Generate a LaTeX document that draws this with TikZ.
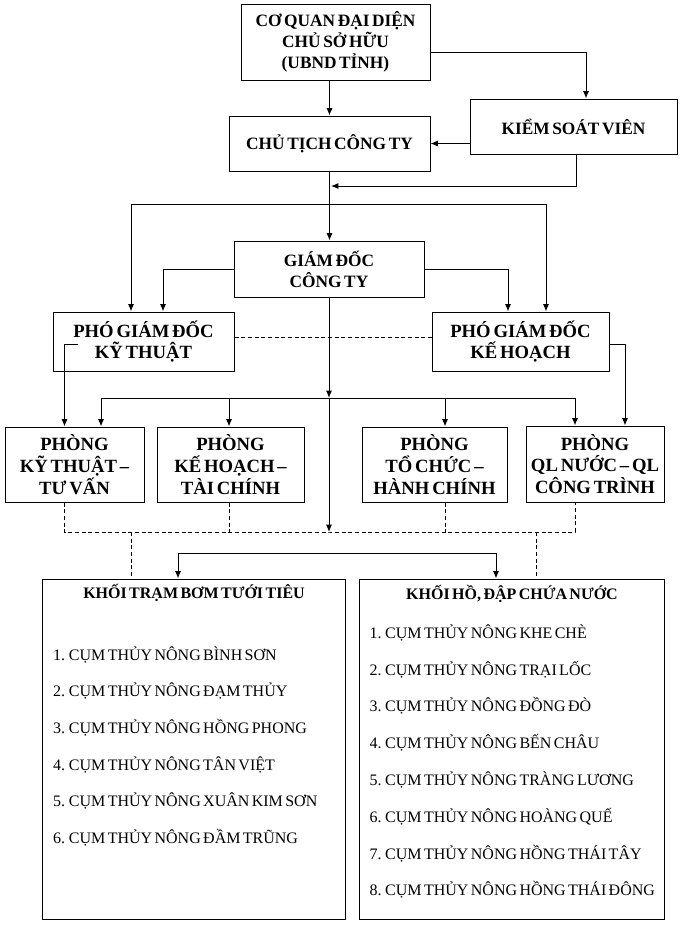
\documentclass[tikz,border=0pt]{standalone}
\usepackage{fontspec}
\setmainfont{Liberation Serif}[WordSpace=0.6]
\usetikzlibrary{arrows.meta}

\tikzset{
  orgbox/.style={draw, rectangle, align=center, inner sep=2pt, font=\fontsize{13}{15.75}\selectfont\bfseries},
  bigbox/.style={orgbox, font=\fontsize{14}{16.25}\selectfont\bfseries},
  arr/.style={-{Latex[length=5.5pt,width=4.5pt]}},
  dashline/.style={dash pattern=on 3pt off 2pt},
  item/.style={anchor=base west, inner sep=0pt, font=\fontsize{12}{14}\selectfont}
}

\begin{document}
\begin{tikzpicture}[x=0.75pt, y=-0.75pt, line width=0.75pt]
\useasboundingbox (0,0) rectangle (689,950);

\node[orgbox, minimum width=141.75pt, minimum height=57pt] (cq) at (335.5,42) {CƠ QUAN ĐẠI DIỆN\\CHỦ SỞ HỮU\\(UBND TỈNH)};
\node[orgbox, minimum width=155.25pt, minimum height=41.25pt] (ksv) at (573.5,126.5) {KIỂM SOÁT VIÊN};
\node[orgbox, minimum width=150.75pt, minimum height=41.25pt] (ct) at (329.5,143.5) {CHỦ TỊCH CÔNG TY};
\node[orgbox, minimum width=142.5pt, minimum height=42pt] (gd) at (329,269) {GIÁM ĐỐC\\CÔNG TY};
\node[bigbox, minimum width=135.75pt, minimum height=44.25pt] (pkt) at (143.5,341.5) {PHÓ GIÁM ĐỐC\\KỸ THUẬT};
\node[bigbox, minimum width=132.75pt, minimum height=44.25pt] (pkh) at (520.5,341.5) {PHÓ GIÁM ĐỐC\\KẾ HOẠCH};
\node[bigbox, minimum width=104.25pt, minimum height=56.25pt] (pg1) at (74.5,464.5) {PHÒNG\\KỸ THUẬT –\\TƯ VẤN};
\node[bigbox, minimum width=110.25pt, minimum height=56.25pt] (pg2) at (230.5,464.5) {PHÒNG\\KẾ HOẠCH –\\TÀI CHÍNH};
\node[bigbox, minimum width=108.75pt, minimum height=56.25pt] (pg3) at (434.5,464.5) {PHÒNG\\TỔ CHỨC –\\HÀNH CHÍNH};
\node[bigbox, minimum width=103.5pt, minimum height=57pt] (pg4) at (595,464) {PHÒNG\\QL NƯỚC – QL\\CÔNG TRÌNH};
\node[draw, rectangle, minimum width=227.25pt, minimum height=255pt] (k1) at (194,749) {};
\node[draw, rectangle, minimum width=229.1pt, minimum height=255pt] (k2) at (511.75,749) {};

\node[anchor=base, inner sep=0pt, font=\fontsize{12}{14}\selectfont\bfseries] (t1) at (194,598.3) {KHỐI TRẠM BƠM TƯỚI TIÊU};
\node[item] (l1) at (52.7,660.3) {1. CỤM THỦY NÔNG BÌNH SƠN};
\node[item] (l2) at (52.7,696.9) {2. CỤM THỦY NÔNG ĐẠM THỦY};
\node[item] (l3) at (52.7,733.5) {3. CỤM THỦY NÔNG HỒNG PHONG};
\node[item] (l4) at (52.7,770.1) {4. CỤM THỦY NÔNG TÂN VIỆT};
\node[item] (l5) at (52.7,806.7) {5. CỤM THỦY NÔNG XUÂN KIM SƠN};
\node[item] (l6) at (52.7,843.3) {6. CỤM THỦY NÔNG ĐẦM TRŨNG};

\node[anchor=base, inner sep=0pt, font=\fontsize{12}{14}\selectfont\bfseries] (t2) at (512,599.3) {KHỐI HỒ, ĐẬP CHỨA NƯỚC};
\node[item] (r1) at (369,638.3) {1. CỤM THỦY NÔNG KHE CHÈ};
\node[item] (r2) at (369,675.1) {2. CỤM THỦY NÔNG TRẠI LỐC};
\node[item] (r3) at (369,711.9) {3. CỤM THỦY NÔNG ĐỒNG ĐÒ};
\node[item] (r4) at (369,748.7) {4. CỤM THỦY NÔNG BẾN CHÂU};
\node[item] (r5) at (369,785.5) {5. CỤM THỦY NÔNG TRÀNG LƯƠNG};
\node[item] (r6) at (369,822.3) {6. CỤM THỦY NÔNG HOÀNG QUẾ};
\node[item] (r7) at (369,859.1) {7. CỤM THỦY NÔNG HỒNG THÁI TÂY};
\node[item] (r8) at (369,895.9) {8. CỤM THỦY NÔNG HỒNG THÁI ĐÔNG};

\coordinate (j1) at (331,186);
\coordinate (j2) at (329.5,204);
\coordinate (j3) at (329,398);
\coordinate (j4) at (329,532);
\coordinate (j5) at (337,553);
\coordinate (p1) at (78,344);

\draw[arr] (cq.south -| ct.north) -- (ct.north);
\draw[arr] ([yshift=-7.5pt]cq.east) -| (ksv.north -| 586,0);
\draw[arr] (ksv.west |- ct.east) -- (ct.east);
\draw[arr] (ksv.south -| 576,0) |- (j1);
\draw[arr] (ct.south) -- (ct.south |- gd.north);
\draw[arr] (j2) -| (pkt.north -| 131,0);
\draw[arr] (j2) -| (pkh.north -| 546,0);
\draw[arr] (gd.west) -| (pkt.north -| 163,0);
\draw[arr] (gd.east) -| (pkh.north -| 508,0);
\draw[dashline] (pkt.east |- 0,337) -- (pkh.west |- 0,337);

\draw[arr] (gd.south) -- (j3);
\draw[arr] (j3) -| (pg1.north -| 101,0);
\draw[arr] (j3) -| (pg4.north -| 575,0);
\draw[arr] (j3 -| 229,0) -- (pg2.north -| 229,0);
\draw[arr] (j3 -| 445,0) -- (pg3.north -| 445,0);
\draw[arr] (j3) -- (j4);
\draw[arr] (p1) -| (pg1.north -| 64.5,0);
\draw[arr] (pkh.east |- 0,344) -| (pg4.north -| 625,0);

\draw[dashline] (pg1.south -| 64.5,0) |- (j4) -| (pg4.south -| 575,0);
\draw[dashline] (pg2.south -| 229,0) -- (j4 -| 229,0);
\draw[dashline] (pg3.south -| 445,0) -- (j4 -| 445,0);
\draw[dashline] (j4 -| 131,0) -- (k1.north -| 131,0);
\draw[dashline] (j4 -| 536,0) -- (k2.north -| 536,0);
\draw[arr] (j5) -| (k1.north -| 178,0);
\draw[arr] (j5) -| (k2.north -| 496,0);

\end{tikzpicture}
\end{document}
